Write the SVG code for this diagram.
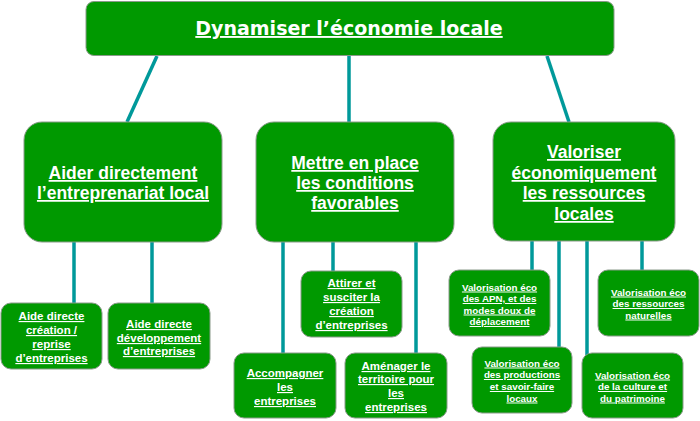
<svg xmlns="http://www.w3.org/2000/svg" width="700" height="421" viewBox="0 0 700 421">
<style>
.box{fill:#009900;stroke:#8a9a8a;stroke-width:1}
.con{stroke:#00999a;stroke-width:3.5;fill:none}
text{fill:#fff;font-weight:bold;text-anchor:middle;text-decoration:underline;font-family:"Liberation Sans",Arial,sans-serif}
.t0{font-family:"DejaVu Sans",Verdana,sans-serif;font-size:19px}
.t1{font-size:17.5px}
.t2{font-size:11.5px}
.t3{font-size:9.8px}
</style>
<rect width="700" height="421" fill="#fff"/>
<g id="connectors">
<line class="con" x1="157" y1="56" x2="127" y2="122"/>
<line class="con" x1="349" y1="56" x2="349" y2="122"/>
<line class="con" x1="547" y1="56" x2="569" y2="122"/>
<line class="con" x1="74" y1="242" x2="74" y2="303"/>
<line class="con" x1="152" y1="242" x2="152" y2="303"/>
<line class="con" x1="283" y1="242" x2="283" y2="353"/>
<line class="con" x1="333" y1="242" x2="333" y2="271"/>
<line class="con" x1="416" y1="242" x2="416" y2="353"/>
<line class="con" x1="532" y1="241" x2="532" y2="270"/>
<line class="con" x1="559" y1="241" x2="559" y2="347"/>
<line class="con" x1="587" y1="241" x2="587" y2="358"/>
<line class="con" x1="642" y1="241" x2="642" y2="270"/>
</g>
<g id="n0">
<rect class="box" x="86" y="1.5" width="528" height="54" rx="8"/>
<text class="t0" x="349" y="35">Dynamiser l’économie locale</text>
</g>
<g id="n1">
<rect class="box" x="24" y="122" width="198" height="120" rx="18"/>
<text class="t1" x="123" y="179">Aider directement</text>
<text class="t1" x="123" y="199">l’entreprenariat local</text>
</g>
<g id="n2">
<rect class="box" x="256" y="122" width="198" height="120" rx="18"/>
<text class="t1" x="355" y="169">Mettre en place</text>
<text class="t1" x="355" y="189">les conditions</text>
<text class="t1" x="355" y="209">favorables</text>
</g>
<g id="n3">
<rect class="box" x="493" y="122" width="182" height="119" rx="18"/>
<text class="t1" x="584" y="158">Valoriser</text>
<text class="t1" x="584" y="179">économiquement</text>
<text class="t1" x="584" y="199">les ressources</text>
<text class="t1" x="584" y="220">locales</text>
</g>
<g id="n4">
<rect class="box" x="1" y="303" width="101" height="66" rx="10"/>
<text class="t2" x="51.5" y="320">Aide directe</text>
<text class="t2" x="51.5" y="334">création /</text>
<text class="t2" x="51.5" y="348">reprise</text>
<text class="t2" x="51.5" y="362">d’entreprises</text>
</g>
<g id="n5">
<rect class="box" x="108" y="303" width="102" height="66" rx="10"/>
<text class="t2" x="159" y="328">Aide directe</text>
<text class="t2" x="159" y="342">développement</text>
<text class="t2" x="159" y="355">d’entreprises</text>
</g>
<g id="n6">
<rect class="box" x="301" y="271" width="101" height="66" rx="10"/>
<text class="t2" x="351.5" y="287">Attirer et</text>
<text class="t2" x="351.5" y="301">susciter la</text>
<text class="t2" x="351.5" y="315">création</text>
<text class="t2" x="351.5" y="329">d’entreprises</text>
</g>
<g id="n7">
<rect class="box" x="234" y="353" width="102" height="65" rx="10"/>
<text class="t2" x="285" y="377">Accompagner</text>
<text class="t2" x="285" y="391">les</text>
<text class="t2" x="285" y="405">entreprises</text>
</g>
<g id="n8">
<rect class="box" x="345" y="353" width="102" height="65" rx="10"/>
<text class="t2" x="396" y="370">Aménager le</text>
<text class="t2" x="396" y="383">territoire pour</text>
<text class="t2" x="396" y="397">les</text>
<text class="t2" x="396" y="411">entreprises</text>
</g>
<g id="n9">
<rect class="box" x="449" y="270" width="101" height="66" rx="10"/>
<text class="t3" x="499.5" y="290.5">Valorisation éco</text>
<text class="t3" x="499.5" y="302">des APN, et des</text>
<text class="t3" x="499.5" y="313.5">modes doux de</text>
<text class="t3" x="499.5" y="325">déplacement</text>
</g>
<g id="n10">
<rect class="box" x="598" y="270" width="101" height="66" rx="10"/>
<text class="t3" x="648.5" y="295.5">Valorisation éco</text>
<text class="t3" x="648.5" y="307">des ressources</text>
<text class="t3" x="648.5" y="318.5">naturelles</text>
</g>
<g id="n11">
<rect class="box" x="472" y="347" width="100" height="66" rx="10"/>
<text class="t3" x="522" y="366.5">Valorisation éco</text>
<text class="t3" x="522" y="378">des productions</text>
<text class="t3" x="522" y="390">et savoir-faire</text>
<text class="t3" x="522" y="401.5">locaux</text>
</g>
<g id="n12">
<rect class="box" x="582" y="353" width="101" height="65" rx="10"/>
<text class="t3" x="632.5" y="378.5">Valorisation éco</text>
<text class="t3" x="632.5" y="390">de la culture et</text>
<text class="t3" x="632.5" y="401.5">du patrimoine</text>
</g>
</svg>
